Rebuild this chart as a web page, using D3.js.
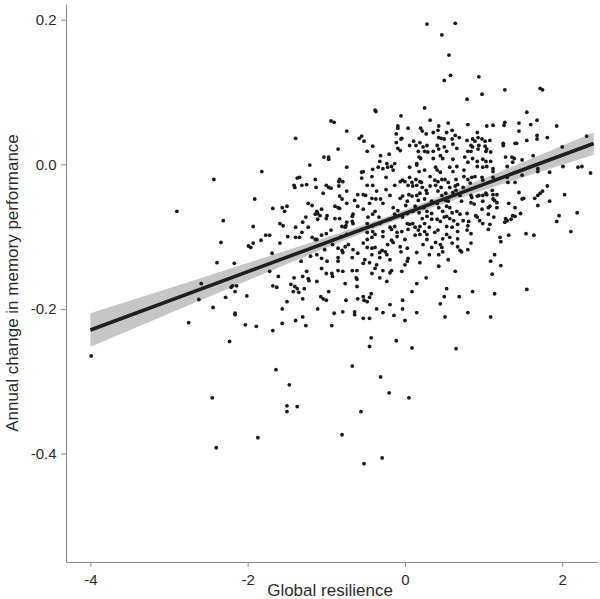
<!DOCTYPE html>
<html>
<head>
<meta charset="utf-8">
<script src="https://cdn.jsdelivr.net/npm/d3@7"></script>
<style>
  body { margin: 0; background: #fff; }
  text { font-family: "Liberation Sans", Arial, sans-serif; }
</style>
</head>
<body>
<div id="chart"></div>
<script>
// data: [global resilience, annual change in memory]
const points = [
  [-0.94,0.060],[-0.90,0.058],[-1.39,0.036],[-0.85,0.021],[-1.03,0.010],[-0.97,0.010],[-0.97,0.007],
  [0.28,0.194],[0.64,0.195],[0.47,0.179],[0.56,0.151],[0.58,0.123],[0.50,0.116],[0.79,0.090],
  [-0.38,0.075],[-0.37,0.073],[0.25,0.078],[-0.05,0.067],[0.32,0.061],[0.55,0.057],[-0.74,0.046],
  [0.80,0.055],[-0.09,0.053],[-0.09,0.050],[0.04,0.050],[0.20,0.050],[0.22,0.046],[0.43,0.053],
  [0.42,0.047],[0.60,0.047],[-0.58,0.036],[-0.55,0.039],[-0.52,0.032],[-0.11,0.042],[0.27,0.042],
  [0.36,0.044],[0.53,0.044],[0.64,0.040],[0.69,0.037],[0.79,0.033],[-0.05,0.035],[-0.04,0.036],
  [-0.11,0.030],[0.11,0.032],[0.19,0.030],[0.43,0.037],[0.46,0.036],[0.50,0.035],[0.60,0.035],
  [-0.41,0.025],[0.06,0.026],[0.14,0.026],[0.28,0.026],[0.41,0.026],[0.50,0.024],[0.61,0.028],
  [-0.09,0.022],[-0.06,0.019],[0.23,0.024],[0.25,0.018],[0.29,0.017],[0.36,0.018],[0.43,0.021],
  [0.53,0.018],[0.66,0.022],[-0.48,0.018],[0.17,0.018],[0.80,0.018],[-0.31,0.012],[-0.20,0.014],
  [0.18,0.010],[0.20,0.008],[0.36,0.008],[0.45,0.012],[0.48,0.008],[0.61,0.007],[0.76,0.010],
  [-0.32,0.004],[-0.23,0.001],[-0.13,0.001],[0.15,0.001],[0.80,0.003],
  [0.94,0.121],[0.98,0.097],[1.27,0.103],[1.72,0.105],[1.75,0.103],[1.55,0.072],[1.04,0.053],
  [1.12,0.054],[1.27,0.058],[1.26,0.054],[1.45,0.057],[1.60,0.055],[1.68,0.061],[1.93,0.053],
  [0.92,0.044],[1.45,0.046],[1.68,0.040],[1.68,0.035],[1.81,0.037],[1.55,0.033],[0.86,0.035],
  [0.89,0.032],[0.93,0.037],[0.98,0.035],[1.02,0.032],[1.08,0.033],[1.25,0.029],[1.25,0.026],
  [1.40,0.029],[1.42,0.029],[2.31,0.039],[2.00,0.024],[0.84,0.026],[0.86,0.024],[0.94,0.026],
  [1.02,0.025],[1.04,0.021],[0.93,0.021],[0.84,0.018],[1.03,0.018],[1.09,0.017],[1.63,0.012],
  [1.28,0.010],[1.36,0.010],[1.39,0.008],[0.86,0.008],[0.92,0.004],[0.99,0.007],[1.03,0.004],
  [1.09,0.004],[1.37,0.003],[1.49,0.006],
  [-2.90,-0.065],[-2.59,-0.165],[-2.62,-0.187],
  [-2.43,-0.021],[-1.82,-0.010],[-1.21,-0.001],[-1.37,-0.019],[-1.34,-0.018],[-1.41,-0.029],
  [-1.40,-0.032],[-1.31,-0.029],[-1.25,-0.028],[-1.14,-0.021],[-1.13,-0.032],[-1.00,-0.029],
  [-0.97,-0.032],[-0.94,-0.033],[-1.04,-0.040],[-0.84,-0.024],[-0.84,-0.030],[-1.91,-0.048],
  [-2.31,-0.078],[-1.68,-0.061],[-1.56,-0.060],[-1.50,-0.058],[-1.53,-0.065],[-1.23,-0.054],
  [-1.18,-0.057],[-1.12,-0.065],[-1.06,-0.062],[-1.14,-0.069],[-1.11,-0.068],[-1.08,-0.071],
  [-0.99,-0.071],[-1.00,-0.075],[-1.11,-0.076],[-0.89,-0.058],[-0.85,-0.060],[-0.89,-0.075],
  [-1.26,-0.073],[-1.30,-0.080],[-1.23,-0.087],[-1.39,-0.087],[-1.31,-0.094],[-1.59,-0.082],
  [-1.55,-0.085],[-1.93,-0.086],[-1.77,-0.098],[-1.72,-0.098],[-1.49,-0.100],[-1.39,-0.101],
  [-1.34,-0.101],[-1.18,-0.101],[-1.14,-0.104],[-1.12,-0.104],[-1.06,-0.098],[-1.00,-0.096],
  [-0.94,-0.091],[-2.34,-0.108],[-1.93,-0.109],[-1.96,-0.115],[-1.99,-0.113],[-1.83,-0.105],
  [-1.59,-0.109],[-1.69,-0.123],[-2.39,-0.136],[-2.17,-0.137],[-1.32,-0.134],[-1.20,-0.127],
  [-1.12,-0.125],[-1.06,-0.130],[-0.99,-0.134],[-1.02,-0.118],[-0.92,-0.111],[-0.85,-0.116],
  [-0.85,-0.129],[-0.85,-0.134],[-1.72,-0.148],[-1.61,-0.155],[-1.41,-0.157],[-1.30,-0.155],
  [-1.25,-0.148],[-1.23,-0.158],[-1.22,-0.161],[-1.06,-0.144],[-1.00,-0.151],[-0.93,-0.151],
  [-0.92,-0.155],[-0.85,-0.147],[-1.12,-0.162],[-1.68,-0.168],[-1.63,-0.170],[-1.45,-0.166],
  [-1.40,-0.169],[-1.37,-0.172],[-1.42,-0.176],[-1.35,-0.177],[-1.28,-0.172],[-0.97,-0.176],
  [-1.07,-0.183],[-1.04,-0.186],[-1.00,-0.188],[-2.21,-0.170],[-2.19,-0.168],[-2.14,-0.168],
  [-2.16,-0.176],[-2.01,-0.182],[-2.28,-0.184],[-2.44,-0.198],[-1.50,-0.190],[-1.30,-0.186],
  [-1.56,-0.200],[-1.11,-0.200],[-2.16,-0.206],[-0.90,-0.206],
  [-0.74,-0.004],[-0.53,-0.010],[-0.55,-0.011],[-0.41,-0.007],[-0.34,-0.004],[-0.28,-0.006],
  [-0.22,-0.004],[-0.17,-0.003],[-0.15,-0.008],[0.06,-0.004],[0.15,-0.001],[0.18,-0.010],
  [0.25,-0.008],[0.39,-0.004],[0.41,-0.008],[0.45,-0.011],[0.57,-0.004],[0.61,-0.010],
  [0.66,-0.003],[0.75,-0.008],[-0.83,-0.021],[-0.55,-0.019],[-0.42,-0.017],[-0.24,-0.018],
  [-0.06,-0.024],[-0.03,-0.022],[0.00,-0.024],[0.06,-0.018],[0.09,-0.025],[0.14,-0.021],
  [0.19,-0.024],[0.21,-0.025],[0.32,-0.017],[0.38,-0.022],[0.42,-0.024],[0.47,-0.021],
  [0.51,-0.021],[0.55,-0.025],[0.65,-0.021],[0.67,-0.028],[0.75,-0.017],[0.80,-0.021],
  [-0.79,-0.024],[-0.48,-0.029],[-0.41,-0.029],[-0.13,-0.029],[0.04,-0.029],[0.10,-0.030],
  [0.15,-0.029],[0.22,-0.032],[0.32,-0.030],[0.39,-0.029],[0.46,-0.032],[0.57,-0.032],
  [0.64,-0.030],[0.74,-0.032],[-0.74,-0.037],[-0.60,-0.042],[-0.53,-0.042],[-0.50,-0.043],
  [-0.36,-0.037],[-0.24,-0.035],[-0.19,-0.043],[-0.03,-0.044],[0.05,-0.042],[0.09,-0.044],
  [0.15,-0.043],[0.19,-0.040],[0.27,-0.036],[0.28,-0.040],[0.42,-0.037],[0.47,-0.043],
  [0.52,-0.040],[0.61,-0.039],[0.65,-0.036],[0.70,-0.043],[-0.80,-0.048],[-0.83,-0.044],
  [-0.64,-0.050],[-0.42,-0.047],[-0.37,-0.048],[-0.31,-0.048],[-0.06,-0.047],[0.03,-0.051],
  [0.17,-0.050],[0.25,-0.048],[0.34,-0.051],[0.52,-0.050],[0.55,-0.051],[0.72,-0.051],
  [-0.74,-0.054],[-0.60,-0.058],[-0.45,-0.054],[-0.28,-0.054],[-0.15,-0.060],[0.01,-0.057],
  [0.13,-0.058],[0.22,-0.060],[0.24,-0.060],[0.41,-0.054],[0.43,-0.060],[0.53,-0.058],
  [0.57,-0.060],[0.66,-0.065],[-0.83,-0.061],[-0.53,-0.062],[-0.38,-0.065],[-0.09,-0.064],
  [0.03,-0.068],[0.10,-0.065],[0.18,-0.067],[0.28,-0.065],[0.28,-0.072],[0.34,-0.068],
  [0.48,-0.065],[0.53,-0.072],[0.60,-0.067],[0.70,-0.069],[0.79,-0.068],[-0.66,-0.069],
  [-0.67,-0.072],[-0.47,-0.073],[-0.41,-0.069],[-0.33,-0.073],[-0.19,-0.076],[-0.13,-0.069],
  [-0.03,-0.073],[0.22,-0.075],[0.34,-0.076],[0.45,-0.079],[0.57,-0.075],[0.62,-0.078],
  [-0.83,-0.075],[-0.74,-0.080],[-0.67,-0.079],[-0.66,-0.082],[-0.48,-0.082],[-0.32,-0.082],
  [0.41,-0.076],[0.50,-0.073],[0.67,-0.083],[0.74,-0.078],[0.81,-0.079],[-0.80,-0.086],
  [-0.76,-0.087],[-0.75,-0.085],[-0.41,-0.085],[-0.19,-0.087],[-0.13,-0.086],[0.03,-0.082],
  [0.06,-0.083],[0.10,-0.082],[0.13,-0.087],[0.19,-0.086],[0.25,-0.082],[0.31,-0.087],
  [0.53,-0.086],[0.60,-0.087],[0.80,-0.085],[-0.55,-0.090],[-0.48,-0.094],[-0.41,-0.093],
  [-0.38,-0.097],[-0.28,-0.093],[-0.17,-0.090],[-0.10,-0.094],[-0.04,-0.093],[0.04,-0.090],
  [0.17,-0.091],[0.19,-0.097],[0.25,-0.093],[0.28,-0.097],[0.38,-0.094],[0.42,-0.091],
  [0.53,-0.097],[0.67,-0.093],[0.79,-0.091],[-0.81,-0.100],[-0.74,-0.097],[-0.48,-0.104],
  [-0.42,-0.101],[-0.28,-0.100],[-0.17,-0.105],[-0.10,-0.100],[0.00,-0.104],[0.13,-0.098],
  [0.28,-0.104],[0.48,-0.103],[0.57,-0.101],[0.67,-0.103],[-0.80,-0.119],[-0.76,-0.114],
  [-0.72,-0.111],[-0.66,-0.118],[-0.53,-0.109],[-0.48,-0.115],[-0.42,-0.116],[-0.38,-0.115],
  [-0.29,-0.119],[-0.25,-0.121],[-0.22,-0.111],[-0.15,-0.108],[-0.06,-0.114],[0.03,-0.116],
  [0.23,-0.111],[0.34,-0.115],[0.39,-0.108],[0.45,-0.111],[0.47,-0.115],[0.48,-0.121],
  [0.60,-0.109],[0.67,-0.114],[0.70,-0.119],[0.72,-0.121],[0.80,-0.118],[-0.79,-0.122],
  [-0.60,-0.123],[-0.42,-0.125],[-0.32,-0.122],[-0.23,-0.125],[-0.05,-0.121],[0.15,-0.122],
  [0.31,-0.125],[0.43,-0.125],[-0.67,-0.129],[-0.51,-0.132],[-0.32,-0.129],[-0.19,-0.132],
  [0.04,-0.130],[0.03,-0.134],[0.55,-0.132],[-0.53,-0.137],[-0.45,-0.136],[-0.36,-0.139],
  [0.00,-0.139],[0.19,-0.136],[0.43,-0.141],[-0.79,-0.148],[-0.67,-0.147],[-0.61,-0.147],
  [-0.38,-0.144],[-0.42,-0.151],[-0.28,-0.147],[-0.19,-0.150],[-0.17,-0.147],[-0.04,-0.148],
  [0.27,-0.157],[0.64,-0.148],[-0.76,-0.165],[-0.62,-0.157],[-0.61,-0.159],[-0.23,-0.162],
  [0.15,-0.165],[-0.32,-0.157],[-0.61,-0.169],[0.09,-0.176],[0.53,-0.172],[-0.75,-0.188],
  [-0.60,-0.186],[-0.53,-0.183],[-0.52,-0.188],[-0.48,-0.190],[-0.45,-0.184],[-0.43,-0.179],
  [-0.36,-0.200],[-0.19,-0.194],[-0.03,-0.188],[-0.03,-0.200],[0.45,-0.193],[0.50,-0.183],
  [0.69,-0.183],[-0.79,-0.204],[-0.64,-0.204],[-0.28,-0.205],[0.15,-0.205],[0.80,-0.205],
  [0.92,-0.003],[0.99,-0.004],[1.04,-0.003],[1.12,-0.006],[1.12,-0.010],[1.30,-0.003],
  [1.69,-0.006],[1.69,-0.010],[1.84,-0.011],[2.01,-0.003],[2.20,-0.004],[2.25,-0.003],
  [2.36,-0.012],[0.85,-0.018],[0.89,-0.017],[0.98,-0.018],[0.99,-0.022],[1.12,-0.018],
  [1.30,-0.018],[1.49,-0.015],[1.31,-0.025],[1.40,-0.025],[0.83,-0.026],[0.84,-0.043],
  [0.85,-0.046],[0.92,-0.044],[0.94,-0.043],[0.99,-0.043],[1.03,-0.040],[1.04,-0.042],
  [1.12,-0.042],[1.17,-0.042],[1.11,-0.036],[1.14,-0.050],[1.12,-0.048],[0.99,-0.051],
  [0.88,-0.055],[0.84,-0.053],[1.45,-0.039],[1.49,-0.048],[1.51,-0.047],[1.32,-0.054],
  [1.17,-0.053],[1.08,-0.058],[1.06,-0.060],[0.98,-0.062],[1.17,-0.060],[1.40,-0.060],
  [1.65,-0.047],[1.69,-0.043],[1.72,-0.040],[1.75,-0.037],[1.81,-0.030],[2.03,-0.042],
  [1.84,-0.051],[1.69,-0.057],[0.90,-0.071],[0.92,-0.073],[1.06,-0.069],[1.13,-0.073],
  [0.95,-0.078],[1.28,-0.075],[1.30,-0.078],[1.27,-0.080],[1.37,-0.071],[1.40,-0.072],
  [1.35,-0.076],[1.47,-0.068],[0.99,-0.082],[1.08,-0.083],[1.06,-0.090],[0.84,-0.096],
  [1.21,-0.101],[1.22,-0.107],[1.32,-0.098],[1.54,-0.096],[1.64,-0.098],[1.96,-0.071],
  [1.93,-0.079],[2.19,-0.067],[2.11,-0.093],[0.84,-0.109],[1.14,-0.125],[1.09,-0.134],
  [1.22,-0.140],[1.11,-0.152],[0.86,-0.176],[1.14,-0.179],[1.55,-0.173],
  [-2.75,-0.219],[-3.99,-0.265],
  [-2.16,-0.208],[-2.03,-0.222],[-1.89,-0.224],[-1.68,-0.230],[-1.56,-0.220],[-1.39,-0.216],
  [-1.30,-0.211],[-1.26,-0.223],[-0.93,-0.223],[-2.23,-0.245],[-1.64,-0.284],[-1.47,-0.305],
  [-2.45,-0.323],[-1.50,-0.334],[-1.37,-0.335],[-1.50,-0.342],[-1.87,-0.378],[-2.40,-0.392],
  [-0.64,-0.208],[-0.53,-0.213],[-0.45,-0.213],[-0.14,-0.209],[0.00,-0.216],[0.51,-0.211],
  [-0.43,-0.240],[-0.45,-0.252],[-0.11,-0.244],[0.09,-0.254],[0.65,-0.255],[-0.67,-0.279],
  [-0.31,-0.294],[-0.20,-0.316],[0.05,-0.323],[-0.56,-0.342],[-0.80,-0.374],[-0.29,-0.406],
  [-0.52,-0.414],[1.09,-0.211]
];

// fitted line and its confidence band
const fitRange = [-4, 2.4];
const fitIntercept = -0.068;
const fitSlope = 0.0403;
const bandCenter = -0.1;
const bandBase = 0.005;
const bandGrowth = 0.0058;

const xTicks = [-4, -2, 0, 2];
const yTicks = [0.2, 0.0, -0.2, -0.4];

const svgWidth = 600;
const svgHeight = 599;
const margin = { top: 4, right: 2, bottom: 37, left: 66 };
const width = svgWidth - margin.left - margin.right;
const height = svgHeight - margin.top - margin.bottom;

const svg = d3.select('#chart').append('svg')
  .attr('width', svgWidth)
  .attr('height', svgHeight);

const chartGroup = svg.append('g')
  .attr('transform', `translate(${margin.left}, ${margin.top})`);

const x = d3.scaleLinear().domain([-4.31, 2.455]).range([0, width]);
const y = d3.scaleLinear().domain([-0.550, 0.2217]).range([height, 0]);

// labels use a plain hyphen for the minus sign, like the original
const hyphen = fmt => d => fmt(d).replace('\u2212', '-');

// confidence band
const fitXs = d3.range(fitRange[0], fitRange[1] + 0.001, 0.05);
const fitY = v => fitIntercept + fitSlope * v;
const halfWidth = v => Math.sqrt(bandBase * bandBase + bandGrowth * bandGrowth * (v - bandCenter) * (v - bandCenter));

chartGroup.append('path')
  .datum(fitXs)
  .attr('fill', '#c6c6c6')
  .attr('d', d3.area()
    .x(d => x(d))
    .y0(d => y(fitY(d) - halfWidth(d)))
    .y1(d => y(fitY(d) + halfWidth(d))));

// points
chartGroup.selectAll('circle')
  .data(points)
  .enter()
  .append('circle')
  .attr('cx', d => x(d[0]))
  .attr('cy', d => y(d[1]))
  .attr('r', 1.9)
  .attr('fill', '#1a1a1a');

// fitted line
chartGroup.append('path')
  .datum(fitRange)
  .attr('fill', 'none')
  .attr('stroke', '#1f1f1f')
  .attr('stroke-width', 3.6)
  .attr('d', d3.line().x(d => x(d)).y(d => y(fitY(d))));

// axes
const xAxis = chartGroup.append('g')
  .attr('transform', `translate(0, ${height})`)
  .call(d3.axisBottom(x).tickValues(xTicks).tickSize(5).tickSizeOuter(0).tickFormat(hyphen(d3.format('d'))));

const yAxis = chartGroup.append('g')
  .call(d3.axisLeft(y).tickValues(yTicks).tickSize(5).tickSizeOuter(0).tickFormat(hyphen(d3.format('.1f'))));

[xAxis, yAxis].forEach(ax => {
  ax.select('.domain').attr('stroke', '#8a8a8a').attr('stroke-width', 1);
  ax.selectAll('.tick line').attr('stroke', '#8a8a8a');
  ax.selectAll('.tick text')
    .attr('fill', '#2b2b2b')
    .attr('font-size', '15px')
    .attr('font-family', '"Liberation Sans", Arial, sans-serif');
});
xAxis.selectAll('.tick text').attr('dy', '1.0em');
yAxis.selectAll('.tick text').attr('dx', '-0.1em');

// axis titles
chartGroup.append('text')
  .attr('x', width / 2 - 2)
  .attr('y', height + 34)
  .attr('text-anchor', 'middle')
  .attr('font-size', '17px')
  .attr('fill', '#2b2b2b')
  .text('Global resilience');

chartGroup.append('text')
  .attr('transform', 'rotate(-90)')
  .attr('x', -height / 2)
  .attr('y', -48)
  .attr('text-anchor', 'middle')
  .attr('font-size', '17px')
  .attr('fill', '#2b2b2b')
  .text('Annual change in memory performance');
</script>
</body>
</html>
